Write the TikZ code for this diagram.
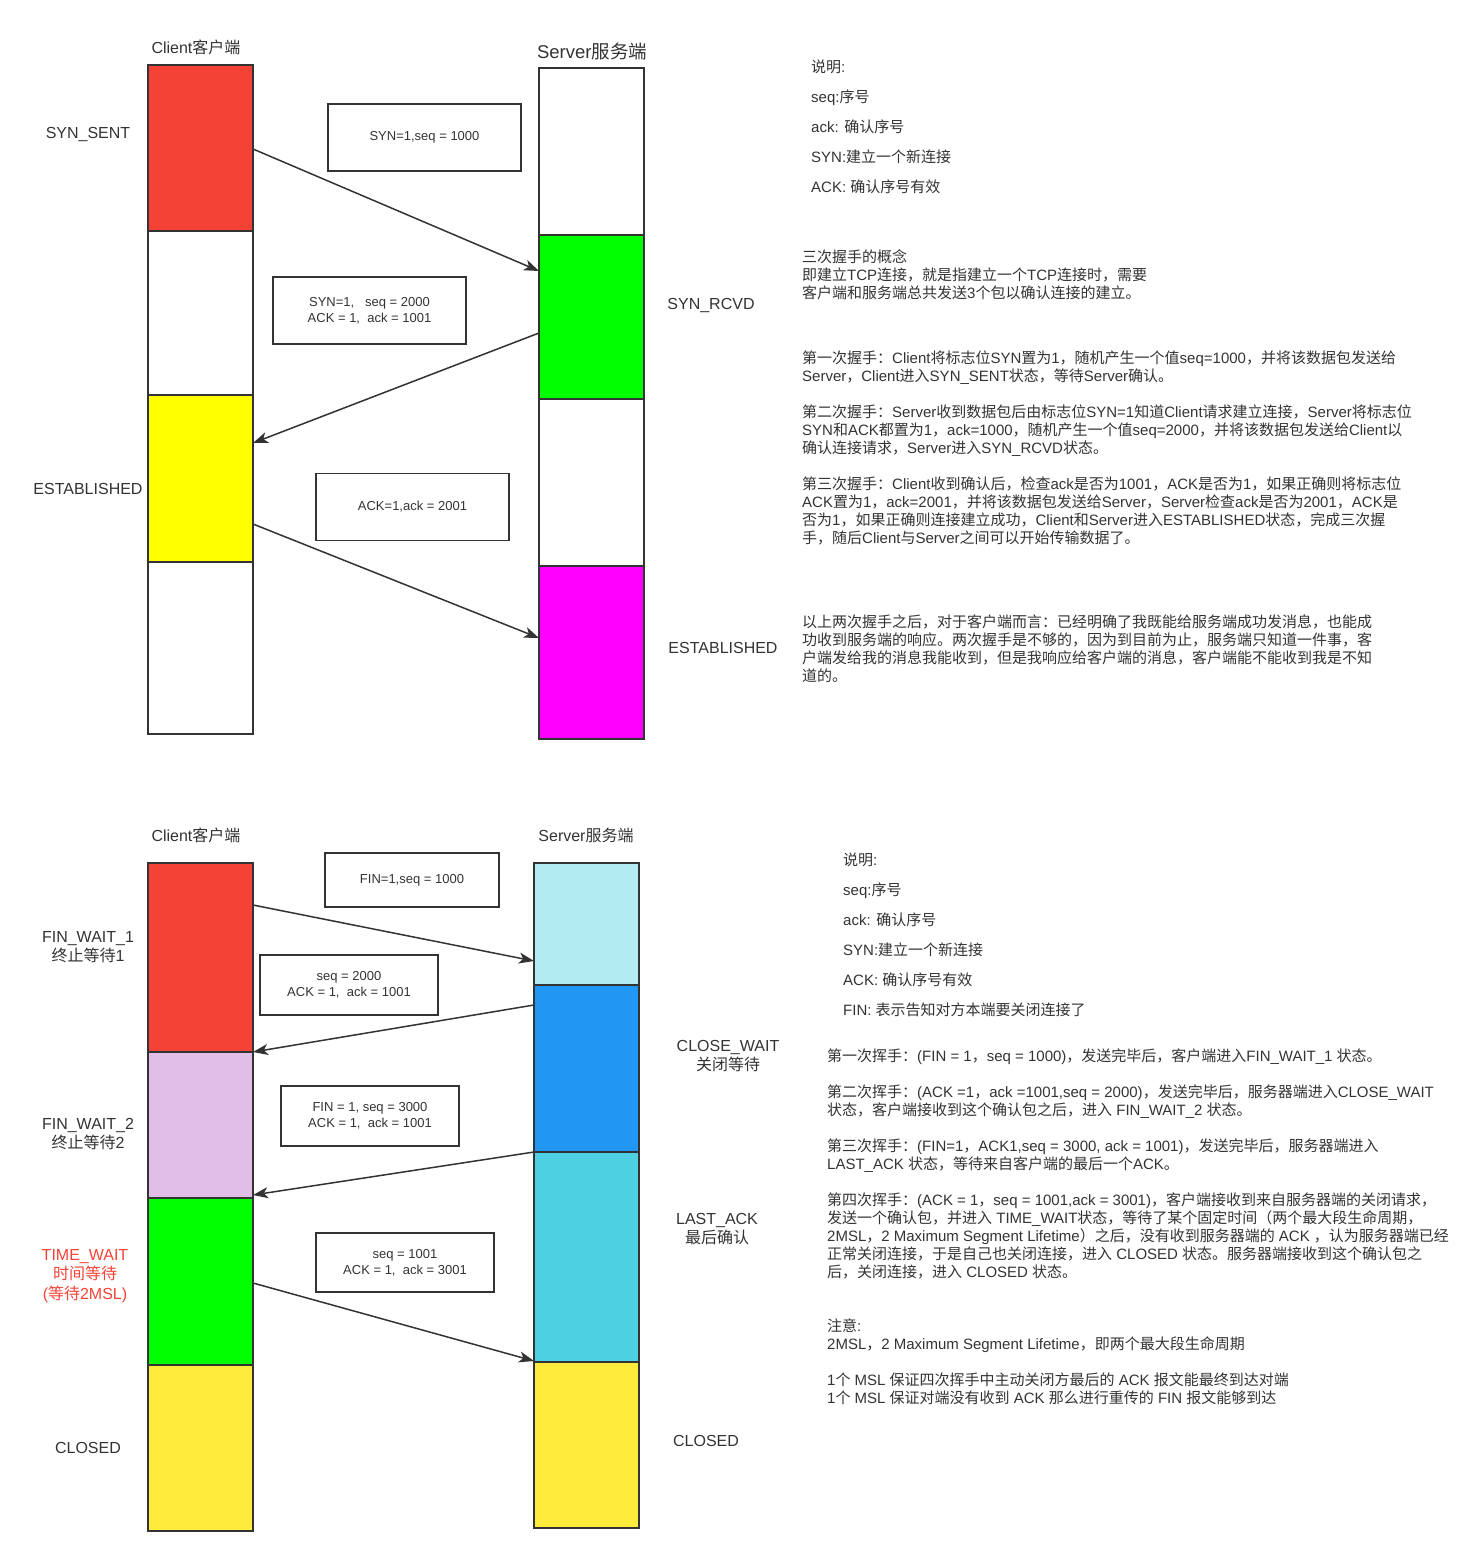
\documentclass[tikz,border=0pt]{standalone}
\usepackage{fontspec}
\setmainfont{Liberation Sans}
\newfontfamily\cjkfont{Noto Sans CJK SC}
\newfontfamily\latinfont{Liberation Sans}
\usetikzlibrary{arrows.meta, positioning}

% Chinese characters go to the CJK font
\XeTeXinterchartokenstate=1
\newXeTeXintercharclass\cjkclass
\newcount\cjkcode
\def\setcjkrange#1#2{\cjkcode=#1\relax\loop\XeTeXcharclass\cjkcode=\cjkclass\relax\ifnum\cjkcode<#2\relax\advance\cjkcode by 1\relax\repeat}
\setcjkrange{"3000}{"303F}
\setcjkrange{"4E00}{"9FFF}
\setcjkrange{"FF00}{"FFEF}
\XeTeXinterchartoks 0 \cjkclass = {\cjkfont}
\XeTeXinterchartoks 4095 \cjkclass = {\cjkfont}
\XeTeXinterchartoks \cjkclass 0 = {\latinfont}
\XeTeXinterchartoks \cjkclass 4095 = {\latinfont}

\definecolor{ink}{HTML}{333333}
\definecolor{tcpred}{HTML}{F44336}
\definecolor{tcpgreen}{HTML}{00FF00}
\definecolor{tcpyellow}{HTML}{FFFF00}
\definecolor{tcpmagenta}{HTML}{FF00FF}
\definecolor{tcplilac}{HTML}{E1BEE7}
\definecolor{tcpice}{HTML}{B2EBF2}
\definecolor{tcpblue}{HTML}{2196F3}
\definecolor{tcpcyan}{HTML}{4DD0E1}
\definecolor{tcpsun}{HTML}{FFEB3B}

\begin{document}
\begin{tikzpicture}[x=1pt, y=-1pt,
    seg/.style={draw=ink, line width=2pt, minimum width=105pt, inner sep=0pt, outer sep=0pt, anchor=north west},
    msgbox/.style={draw=ink, line width=1.5pt, inner sep=0pt, align=center, text=ink, font=\fontsize{13}{16}\selectfont},
    msg/.style={-{Stealth[length=15pt, width=11pt, inset=4pt]}, line width=1.5pt, draw=ink},
    title/.style={text=ink, font=\fontsize{16}{19}\selectfont},
    state/.style={text=ink, align=center, font=\fontsize{16}{19.5}\selectfont},
    note/.style={text=ink, align=left, anchor=base west, inner sep=0pt, font=\fontsize{15}{18}\selectfont}
]
\useasboundingbox (0,0) rectangle (1475,1557);

% ===== THREE-WAY HANDSHAKE =====
\node[title] (ctitleA) at (196,47) {Client客户端};
\node[title, font=\fontsize{18.5}{22}\selectfont] (stitleA) at (592,51) {Server服务端};

% Client / server columns
\foreach \n/\y/\h/\c in {c1/65/166/tcpred, c2/231/164/white, c3/395/167/tcpyellow, c4/562/172/white} {
    \node[seg, minimum height=\h pt, fill=\c] (\n) at (148,\y) {};
}
\foreach \n/\y/\h/\c in {s1/68/167/white, s2/235/164/tcpgreen, s3/399/167/white, s4/566/173/tcpmagenta} {
    \node[seg, minimum height=\h pt, fill=\c] (\n) at (539,\y) {};
}

% States
\node[state] (ssent) at (88,135) {SYN\_SENT};
\node[state] (cest) at (88,489) {ESTABLISHED};
\node[state] (srcvd) at (711,306) {SYN\_RCVD};
\node[state] (sest) at (723,648) {ESTABLISHED};

% Packets
\node[msgbox, minimum width=193pt, minimum height=67pt] (synbox) at (424.5,137.5) {SYN=1,seq = 1000};
\node[msgbox, minimum width=193pt, minimum height=67pt] (synackbox) at (369.5,310.5) {SYN=1,\ \ \ seq = 2000\\ACK = 1,\ \ ack = 1001};
\node[msgbox, minimum width=193pt, minimum height=67pt] (ackbox) at (412.5,507) {ACK=1,ack = 2001};

\coordinate (m1s) at (253,149);
\coordinate (m1e) at (539,271);
\coordinate (m2s) at (539,333);
\coordinate (m2e) at (253,443);
\coordinate (m3s) at (253,524);
\coordinate (m3e) at (539,638);
\draw[msg] (m1s) -- (m1e);
\draw[msg] (m2s) -- (m2e);
\draw[msg] (m3s) -- (m3e);

% Notes (placed by the baseline of their last line)
\node[note, font=\fontsize{15}{30}\selectfont] (legendA) at (811,193) {说明:\\seq:序号\\ack: 确认序号\\SYN:建立一个新连接\\ACK: 确认序号有效};
\node[note] (pA0) at (802,298) {三次握手的概念\\即建立TCP连接，就是指建立一个TCP连接时，需要\\客户端和服务端总共发送3个包以确认连接的建立。};
\node[note] (pA1) at (802,381) {第一次握手：Client将标志位SYN置为1，随机产生一个值seq=1000，并将该数据包发送给\\Server，Client进入SYN\_SENT状态，等待Server确认。};
\node[note] (pA2) at (802,453) {第二次握手：Server收到数据包后由标志位SYN=1知道Client请求建立连接，Server将标志位\\SYN和ACK都置为1，ack=1000，随机产生一个值seq=2000，并将该数据包发送给Client以\\确认连接请求，Server进入SYN\_RCVD状态。};
\node[note] (pA3) at (802,543) {第三次握手：Client收到确认后，检查ack是否为1001，ACK是否为1，如果正确则将标志位\\ACK置为1，ack=2001，并将该数据包发送给Server，Server检查ack是否为2001，ACK是\\否为1，如果正确则连接建立成功，Client和Server进入ESTABLISHED状态，完成三次握\\手，随后Client与Server之间可以开始传输数据了。};
\node[note] (pA4) at (802,681) {以上两次握手之后，对于客户端而言：已经明确了我既能给服务端成功发消息，也能成\\功收到服务端的响应。两次握手是不够的，因为到目前为止，服务端只知道一件事，客\\户端发给我的消息我能收到，但是我响应给客户端的消息，客户端能不能收到我是不知\\道的。};

% ===== FOUR-WAY WAVE =====
\node[title] (ctitleB) at (196,835) {Client客户端};
\node[title] (stitleB) at (586,835) {Server服务端};

\foreach \n/\y/\h/\c in {d1/863/189/tcpred, d2/1052/146/tcplilac, d3/1198/167/tcpgreen, d4/1365/166/tcpsun} {
    \node[seg, minimum height=\h pt, fill=\c] (\n) at (148,\y) {};
}
\foreach \n/\y/\h/\c in {t1/863/122/tcpice, t2/985/167/tcpblue, t3/1152/210/tcpcyan, t4/1362/166/tcpsun} {
    \node[seg, minimum height=\h pt, fill=\c] (\n) at (534,\y) {};
}

% States
\node[state] (fw1) at (88,947) {FIN\_WAIT\_1\\终止等待1};
\node[state] (fw2) at (88,1134) {FIN\_WAIT\_2\\终止等待2};
\node[state, text=tcpred] (tw) at (85,1276) {TIME\_WAIT\\时间等待\\(等待2MSL)};
\node[state] (cclosed) at (88,1448) {CLOSED};
\node[state] (cw) at (728,1056) {CLOSE\_WAIT\\关闭等待};
\node[state] (la) at (717,1229) {LAST\_ACK\\最后确认};
\node[state] (sclosed) at (706,1441) {CLOSED};

% Packets
\node[msgbox, minimum width=174pt, minimum height=54pt] (finbox) at (412,880) {FIN=1,seq = 1000};
\node[msgbox, minimum width=178pt, minimum height=60pt] (ackboxB) at (349,985) {seq = 2000\\ACK = 1,\ \ ack = 1001};
\node[msgbox, minimum width=178pt, minimum height=60pt] (finackbox) at (370,1116) {FIN = 1, seq = 3000\\ACK = 1,\ \ ack = 1001};
\node[msgbox, minimum width=178pt, minimum height=59pt] (lastbox) at (405,1262.5) {seq = 1001\\ACK = 1,\ \ ack = 3001};

\coordinate (f1s) at (253,905);
\coordinate (f1e) at (534,961);
\coordinate (f2s) at (534,1005);
\coordinate (f2e) at (253,1052);
\coordinate (f3s) at (534,1152);
\coordinate (f3e) at (253,1195);
\coordinate (f4s) at (253,1283);
\coordinate (f4e) at (534,1361);
\draw[msg] (f1s) -- (f1e);
\draw[msg] (f2s) -- (f2e);
\draw[msg] (f3s) -- (f3e);
\draw[msg] (f4s) -- (f4e);

% Notes
\node[note, font=\fontsize{15}{30}\selectfont] (legendB) at (843,1015) {说明:\\seq:序号\\ack: 确认序号\\SYN:建立一个新连接\\ACK: 确认序号有效\\FIN: 表示告知对方本端要关闭连接了};
\node[note] (pB1) at (827,1061) {第一次挥手：(FIN = 1，seq = 1000)，发送完毕后，客户端进入FIN\_WAIT\_1 状态。};
\node[note] (pB2) at (827,1115) {第二次挥手：(ACK =1，ack =1001,seq = 2000)，发送完毕后，服务器端进入CLOSE\_WAIT\\状态，客户端接收到这个确认包之后，进入 FIN\_WAIT\_2 状态。};
\node[note] (pB3) at (827,1169) {第三次挥手：(FIN=1，ACK1,seq = 3000, ack = 1001)，发送完毕后，服务器端进入\\LAST\_ACK 状态，等待来自客户端的最后一个ACK。};
\node[note] (pB4) at (827,1277) {第四次挥手：(ACK = 1，seq = 1001,ack = 3001)，客户端接收到来自服务器端的关闭请求，\\发送一个确认包，并进入 TIME\_WAIT状态，等待了某个固定时间（两个最大段生命周期，\\2MSL，2 Maximum Segment Lifetime）之后，没有收到服务器端的 ACK ，认为服务器端已经\\正常关闭连接，于是自己也关闭连接，进入 CLOSED 状态。服务器端接收到这个确认包之\\后，关闭连接，进入 CLOSED 状态。};
\node[note] (pB5) at (827,1349) {注意:\\2MSL，2 Maximum Segment Lifetime，即两个最大段生命周期};
\node[note] (pB6) at (827,1403) {1个 MSL 保证四次挥手中主动关闭方最后的 ACK 报文能最终到达对端\\1个 MSL 保证对端没有收到 ACK 那么进行重传的 FIN 报文能够到达};

\end{tikzpicture}
\end{document}
